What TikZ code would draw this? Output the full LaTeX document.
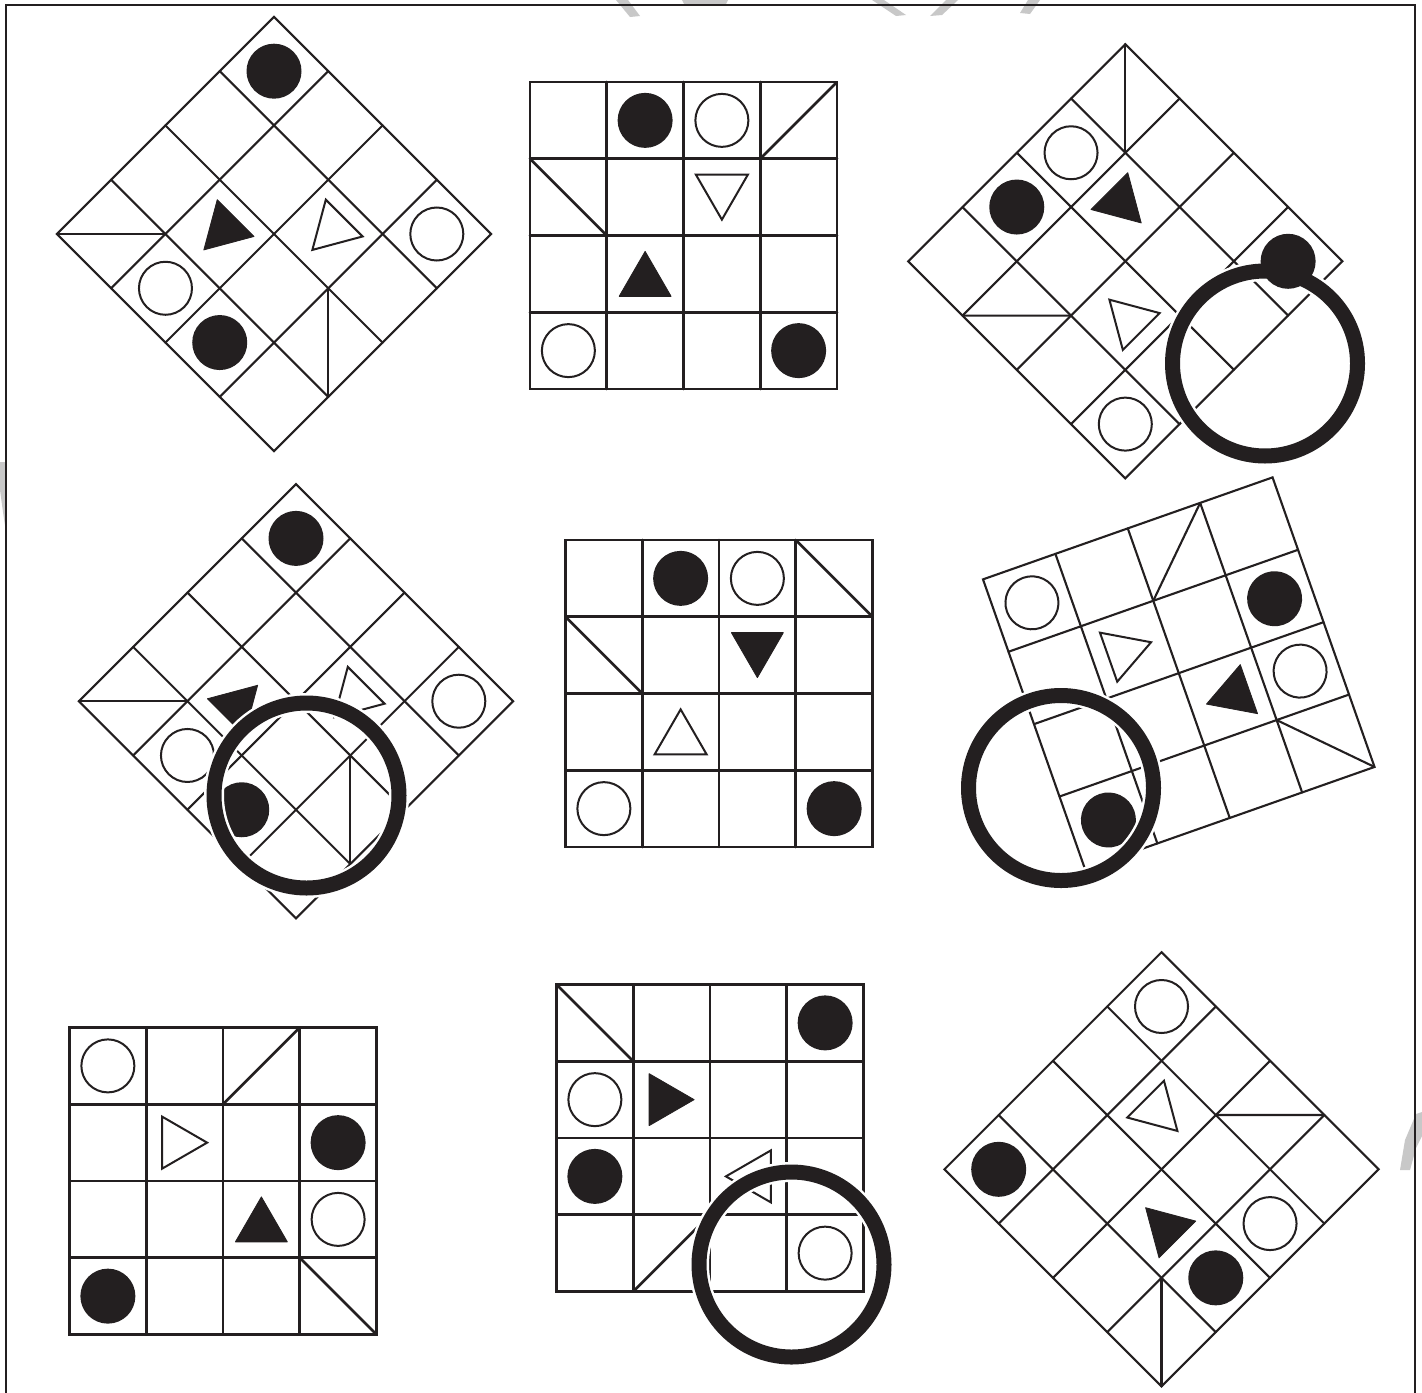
\documentclass[tikz,border=0pt]{standalone}
\definecolor{ink}{RGB}{35,31,32}
\definecolor{wm}{RGB}{200,200,200}
\tikzset{
  dgl/.style={draw=ink, line width=1.05pt, line cap=round},
  sgl/.style={draw=ink, line width=1.3pt, line cap=round},
  ocst/.style={draw=ink, line width=1pt},
  otri/.style={draw=ink, line width=1pt, line join=miter},
  ftri/.style={fill=ink, draw=ink, line width=0.4pt, line join=round},
  wmark/.style={fill=wm},
}
\newcommand\mkgrid[1]{%
  \foreach \i in {-1,0,1} {\draw[#1] (\i*76.75,-153.5) -- (\i*76.75,153.5);
    \draw[#1] (-153.5,\i*76.75) -- (153.5,\i*76.75);}
  \draw[#1, line join=miter] (-153.5,-153.5) rectangle (153.5,153.5);}
\newcommand\mkfc[2]{\fill[ink] ({(#1-1.5)*76.75},{(#2-1.5)*76.75}) circle (27.5);}
\newcommand\mkoc[2]{\draw[ocst] ({(#1-1.5)*76.75},{(#2-1.5)*76.75}) circle (26.5);}
\newcommand\mktri[4]{\path[#4, shift={({(#1-1.5)*76.75},{(#2-1.5)*76.75})}, rotate=#3] (0,-22.5) -- (26,22.5) -- (-26,22.5) -- cycle;}
\newcommand\mkring[2]{\draw[white, line width=10pt] (#1,#2) circle (92.5);
  \draw[ink, line width=7.5pt] (#1,#2) circle (92.5);}
\begin{document}
\begin{tikzpicture}[x=0.5pt,y=-0.5pt]
\useasboundingbox (0,0) rectangle (1422,1392);
\fill[white] (0,0) rectangle (1422,1392);
% faint watermark fragments
\fill[wmark] (616,0) -- (628,0) -- (640,16) -- (630,17) -- cycle;
\fill[wmark] (682,0) -- (728,0) -- (726,4) -- (684,4) -- cycle;
\fill[wmark] (872,0) -- (884,0) -- (906,15) -- (896,16) -- cycle;
\fill[wmark] (930,16) -- (942,15) -- (958,0) -- (946,0) -- cycle;
\fill[wmark] (1028,0) -- (1040,0) -- (1030,14) -- (1020,13) -- cycle;
\fill[wmark] (0,462) -- (6,462) -- (6,532) -- (3,512) -- (0,490) -- cycle;
\fill[wmark] (1422,1112) -- (1416,1114) -- (1405,1140) -- (1400,1170) -- (1410,1170) -- (1416,1148) -- (1422,1136) -- cycle;
% frame
\draw[ink, line width=0.8pt] (6,1400) -- (6,5) -- (1415,5) -- (1415,1400);

% G1 top-left diamond
\begin{scope}[shift={(274,234)}, rotate=-45]
  \mkgrid{dgl}
  \mkfc{0}{0} \mkoc{3}{0}
  \draw[dgl] (-153.5,153.5) -- (-76.75,76.75);
  \mkoc{1}{3} \mkfc{2}{3}
  \mktri{1}{2}{180}{ftri}
  \mktri{2}{1}{180}{otri}
  \draw[dgl] (76.75,0) -- (153.5,76.75);
\end{scope}

% G2 top-middle square
\begin{scope}[shift={(683.5,235.5)}]
  \mkgrid{sgl}
  \mkfc{1}{0} \mkoc{2}{0}
  \draw[sgl] (76.75,-76.75) -- (153.5,-153.5);
  \draw[sgl] (-153.5,-76.75) -- (-76.75,0);
  \mktri{2}{1}{180}{otri}
  \mktri{1}{2}{0}{ftri}
  \mkoc{0}{3} \mkfc{3}{3}
\end{scope}

% G3 top-right diamond
\begin{scope}[shift={(1125.3,261.3)}, rotate=-45]
  \mkgrid{dgl}
  \draw[dgl] (-153.5,-153.5) -- (-76.75,-76.75);
  \mkoc{0}{1} \mkfc{0}{2}
  \mktri{1}{1}{-90}{ftri}
  \draw[dgl] (-76.75,153.5) -- (0,76.75);
  \mktri{2}{2}{90}{otri}
  \mkoc{3}{3}
\end{scope}
\mkring{1265}{363.5}
\begin{scope}[shift={(1125.3,261.3)}, rotate=-45]
  \mkfc{3}{0}
\end{scope}

% G4 middle-left diamond
\begin{scope}[shift={(296,701.2)}, rotate=-45]
  \mkgrid{dgl}
  \mkfc{0}{0} \mkoc{3}{0}
  \draw[dgl] (-153.5,153.5) -- (-76.75,76.75);
  \mkoc{1}{3} \mkfc{2}{3}
  \mktri{1}{2}{0}{ftri}
  \mktri{2}{1}{180}{otri}
  \draw[dgl] (76.75,0) -- (153.5,76.75);
\end{scope}
\mkring{306.5}{795.5}

% G5 center square
\begin{scope}[shift={(719,693.5)}]
  \mkgrid{sgl}
  \mkfc{1}{0} \mkoc{2}{0}
  \draw[sgl] (76.75,-153.5) -- (153.5,-76.75);
  \draw[sgl] (-153.5,-76.75) -- (-76.75,0);
  \mktri{2}{1}{180}{ftri}
  \mktri{1}{2}{0}{otri}
  \mkoc{0}{3} \mkfc{3}{3}
\end{scope}

% G6 middle-right rotated square
\begin{scope}[shift={(1178.75,673.15)}, rotate=19.4]
  \mkgrid{dgl}
  \mkoc{0}{0}
  \draw[dgl] (0,-76.75) -- (76.75,-153.5);
  \mkfc{3}{1}
  \mktri{1}{1}{-90}{otri}
  \mkoc{3}{2}
  \mktri{2}{2}{90}{ftri}
  \draw[dgl] (76.75,76.75) -- (153.5,153.5);
  \mkfc{0}{3}
\end{scope}
\mkring{1061}{788}

% G7 bottom-left square
\begin{scope}[shift={(223,1181)}]
  \mkgrid{sgl}
  \mkoc{0}{0}
  \draw[sgl] (0,-76.75) -- (76.75,-153.5);
  \mktri{1}{1}{-90}{otri}
  \mkfc{3}{1}
  \mktri{2}{2}{0}{ftri}
  \mkoc{3}{2}
  \mkfc{0}{3}
  \draw[sgl] (76.75,76.75) -- (153.5,153.5);
\end{scope}

% G8 bottom-middle square
\begin{scope}[shift={(710,1138)}]
  \mkgrid{sgl}
  \draw[sgl] (-153.5,-153.5) -- (-76.75,-76.75);
  \mkfc{3}{0}
  \mkoc{0}{1}
  \mktri{1}{1}{-90}{ftri}
  \mkfc{0}{2}
  \mktri{2}{2}{90}{otri}
  \draw[sgl] (-76.75,153.5) -- (0,76.75);
  \mkoc{3}{3}
\end{scope}
\mkring{791.5}{1264.5}

% G9 bottom-right diamond
\begin{scope}[shift={(1161.5,1169.3)}, rotate=-45]
  \mkgrid{dgl}
  \mkoc{0}{0} \mkfc{0}{3}
  \mktri{1}{1}{-90}{otri}
  \draw[dgl] (0,-76.75) -- (76.75,-153.5);
  \mktri{2}{2}{90}{ftri}
  \mkoc{3}{1} \mkfc{3}{2}
  \draw[dgl] (76.75,76.75) -- (153.5,153.5);
\end{scope}
\end{tikzpicture}
\end{document}
